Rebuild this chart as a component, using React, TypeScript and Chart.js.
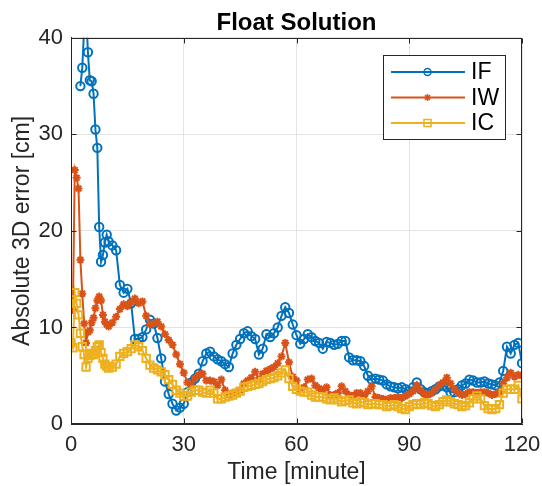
import React, { useEffect, useRef } from 'react';
import { Chart, registerables } from 'chart.js';

Chart.register(...registerables);

// Time axis (minutes)
const times: number[] = [
  0, 0.5, 1, 1.5, 2, 2.5, 3, 3.5, 4, 4.5, 5, 5.5, 6, 6.5, 7, 7.5, 8, 8.5, 9, 9.5, 10,
  11, 12, 13, 14, 15, 16, 17, 18, 19, 20,
  21, 22, 23, 24, 25, 26, 27, 28, 29, 30,
  31, 32, 33, 34, 35, 36, 37, 38, 39, 40,
  41, 42, 43, 44, 45, 46, 47, 48, 49, 50,
  51, 52, 53, 54, 55, 56, 57, 58, 59, 60,
  61, 62, 63, 64, 65, 66, 67, 68, 69, 70,
  71, 72, 73, 74, 75, 76, 77, 78, 79, 80,
  81, 82, 83, 84, 85, 86, 87, 88, 89, 90,
  91, 92, 93, 94, 95, 96, 97, 98, 99, 100,
  101, 102, 103, 104, 105, 106, 107, 108, 109, 110,
  111, 112, 113, 114, 115, 116, 117, 118, 119, 120,
];

const valuesIF: (number | null)[] = [
  null, null, null, null, null, 35.0, 36.9, 41, 43, 38.5, 35.6, 35.5, 34.2, 30.5, 28.6, 20.4, 16.8, 17.5, 18.8, 19.6, 18.9,
  18.5, 18.0, 14.4, 13.6, 14.0, 12.5, 8.8, 8.8, 9.0, 9.8,
  10.8, 10.4, 8.9, 6.8, 4.4, 3.1, 2.1, 1.4, 1.7, 2.1,
  3.3, 4.3, 4.7, 5.2, 6.5, 7.3, 7.5, 7.0, 6.7, 6.5,
  6.2, 5.9, 7.3, 8.2, 8.8, 9.4, 9.6, 9.1, 8.8, 7.2,
  7.8, 9.3, 9.0, 9.4, 10.0, 11.2, 12.1, 11.5, 10.3, 9.2,
  8.3, 8.8, 9.3, 9.0, 8.6, 8.4, 7.8, 8.5, 8.4, 8.2,
  8.3, 8.6, 8.6, 6.9, 6.6, 6.6, 6.5, 6.0, 5.0, 4.6,
  4.7, 4.6, 4.5, 4.1, 3.9, 3.8, 3.7, 3.8, 3.6, 3.4,
  3.8, 4.3, 3.6, 3.3, 3.2, 3.4, 3.6, 3.9, 4.0, 3.8,
  3.3, 3.3, 3.6, 4.0, 4.2, 4.6, 4.5, 4.3, 4.3, 4.4,
  4.2, 4.1, 4.0, 4.3, 5.5, 8.0, 7.3, 8.2, 8.4, 6.3,
];

const valuesIW: number[] = [
  12.0, 11.8, 26.3, 25.5, 24.4, 17.0, 13.5, 10.4, 8.4, 9.5, 9.7, 10.5, 11.0, 12.0, 12.8, 13.2, 12.8, 11.3, 10.6, 10.3, 10.1,
  10.5, 11.1, 11.9, 12.4, 12.2, 12.6, 13.0, 12.5, 12.7, 11.2,
  10.3, 10.4, 10.6, 10.1, 9.3, 8.7, 8.2, 7.2, 6.2, 5.3,
  4.3, 4.0, 4.7, 5.1, 5.2, 4.5, 4.5, 4.4, 4.0, 4.6,
  3.5, 3.0, 3.2, 3.3, 3.5, 4.2, 4.5, 4.8, 5.4, 4.6,
  5.2, 5.5, 5.7, 5.9, 6.3, 7.0, 8.4, 6.4, 4.9, 4.5,
  3.6, 3.8, 4.6, 4.7, 4.0, 3.7, 3.5, 3.8, 3.0, 3.0,
  3.2, 3.9, 3.4, 3.0, 2.9, 3.2, 3.2, 2.9, 3.4, 3.9,
  2.8, 2.7, 2.6, 2.5, 2.7, 2.7, 2.8, 2.7, 2.9, 3.1,
  3.4, 4.0, 3.5, 3.1, 3.0, 3.2, 3.6, 4.0, 4.3, 4.8,
  4.2, 3.6, 3.2, 3.0, 3.1, 3.3, 3.3, 3.2, 3.3, 3.3,
  3.2, 3.0, 3.1, 3.3, 4.2, 4.8, 5.3, 4.9, 5.1, 5.0,
];

const valuesIC: number[] = [
  8.4, 7.9, 13.6, 12.5, 11.3, 9.4, 8.0, 7.2, 5.9, 6.8, 7.1, 7.3, 7.2, 7.6, 8.0, 8.2, 7.4, 6.8, 6.2, 6.0, 5.8,
  5.9, 6.2, 7.0, 7.3, 7.5, 7.8, 8.2, 8.0, 7.6, 6.8,
  6.1, 5.8, 5.6, 5.4, 5.1, 4.6, 4.1, 3.5, 3.2, 2.9,
  2.9, 3.3, 3.5, 3.5, 3.3, 3.2, 3.5, 3.2, 2.6, 2.6,
  2.8, 2.9, 3.0, 3.2, 3.4, 3.8, 3.9, 4.0, 4.1, 4.2,
  4.4, 4.6, 4.7, 4.8, 5.0, 5.3, 5.6, 4.7, 3.9, 3.6,
  3.4, 3.3, 3.3, 3.0, 2.8, 2.8, 2.8, 2.6, 2.5, 2.7,
  2.5, 2.3, 2.4, 2.5, 2.2, 2.1, 2.3, 2.2, 2.0, 2.1,
  2.1, 2.0, 2.0, 1.8, 1.9, 2.0, 1.8, 1.6, 1.5, 1.8,
  2.0, 2.1, 2.0, 2.2, 2.1, 1.9, 1.8, 2.0, 2.3, 2.5,
  2.3, 2.1, 2.0, 1.8, 1.9, 2.2, 2.6, 2.9, 2.6, 1.9,
  1.6, 1.5, 1.6, 2.0, 3.2, 3.6, 3.6, 3.6, 4.0, 2.6,
];

const xTicks = [0, 30, 60, 90, 120];
const yTicks = [0, 10, 20, 30, 40];

const FONT = '"Liberation Sans", Arial, Helvetica, sans-serif';
const AXIS_COLOR = '#262626';

function toPoints(vals: (number | null)[]) {
  return times.map((t, i) => ({ x: t, y: vals[i] }));
}

function drawMarker(ctx: CanvasRenderingContext2D, style: string, x: number, y: number, r: number) {
  ctx.beginPath();
  if (style === 'circle') {
    ctx.arc(x, y, r, 0, Math.PI * 2);
  } else if (style === 'rect') {
    const s = r * Math.SQRT1_2;
    ctx.rect(x - s, y - s, 2 * s, 2 * s);
  } else if (style === 'star') {
    ctx.moveTo(x - r, y); ctx.lineTo(x + r, y);
    ctx.moveTo(x, y - r); ctx.lineTo(x, y + r);
    const d = r * Math.SQRT1_2;
    ctx.moveTo(x - d, y - d); ctx.lineTo(x + d, y + d);
    ctx.moveTo(x - d, y + d); ctx.lineTo(x + d, y - d);
  }
  ctx.stroke();
}

const framePlugin = {
  id: 'matlabFrame',
  afterDatasetsDraw(chart: any) {
    const { ctx, chartArea } = chart;
    const xs = chart.scales.x;
    const ys = chart.scales.y;
    const L = Math.round(chartArea.left) + 0.5;
    const R = Math.round(chartArea.right) - 0.5;
    const T = Math.round(chartArea.top) + 0.5;
    const B = Math.round(chartArea.bottom) - 0.5;
    ctx.save();
    ctx.strokeStyle = AXIS_COLOR;
    ctx.lineWidth = 1;
    ctx.strokeRect(L, T, R - L, B - T);
    const tl = 5;
    ctx.beginPath();
    xTicks.forEach((v) => {
      const px = Math.round(xs.getPixelForValue(v)) + 0.5;
      ctx.moveTo(px, B); ctx.lineTo(px, B - tl);
      ctx.moveTo(px, T); ctx.lineTo(px, T + tl);
    });
    yTicks.forEach((v) => {
      const py = Math.round(ys.getPixelForValue(v)) + 0.5;
      ctx.moveTo(L, py); ctx.lineTo(L + tl, py);
      ctx.moveTo(R, py); ctx.lineTo(R - tl, py);
    });
    ctx.stroke();
    ctx.restore();
  },
};

const legendPlugin = {
  id: 'matlabLegend',
  afterDraw(chart: any) {
    const { ctx, chartArea } = chart;
    const boxW = 122;
    const boxH = 84;
    const boxR = Math.round(chartArea.right) - 17;
    const boxL = boxR - boxW;
    const boxT = Math.round(chartArea.top) + 17;
    ctx.save();
    ctx.fillStyle = '#ffffff';
    ctx.fillRect(boxL, boxT, boxW, boxH);
    ctx.strokeStyle = AXIS_COLOR;
    ctx.lineWidth = 1;
    ctx.strokeRect(boxL + 0.5, boxT + 0.5, boxW, boxH);
    chart.data.datasets.forEach((ds: any, i: number) => {
      const y = boxT + 17 + i * 25.5;
      ctx.strokeStyle = ds.borderColor;
      ctx.lineWidth = 2;
      ctx.beginPath();
      ctx.moveTo(boxL + 8, y);
      ctx.lineTo(boxL + 82, y);
      ctx.stroke();
      ctx.lineWidth = 1.5;
      drawMarker(ctx, ds.pointStyle, boxL + 44.5, y, ds.pointStyle === 'rect' ? 5 : 3.5);
      ctx.fillStyle = '#000000';
      ctx.font = `23px ${FONT}`;
      ctx.textAlign = 'left';
      ctx.textBaseline = 'middle';
      ctx.fillText(ds.label, boxL + 88, y + 1);
    });
    ctx.restore();
  },
};

export default function App() {
  const canvasRef = useRef<HTMLCanvasElement | null>(null);

  useEffect(() => {
    if (!canvasRef.current) return;
    Chart.defaults.font.family = FONT;
    const chart = new Chart(canvasRef.current, {
      type: 'line',
      data: {
        datasets: [
          {
            label: 'IF',
            data: toPoints(valuesIF) as any,
            borderColor: '#0072BD',
            backgroundColor: 'rgba(0,0,0,0)',
            borderWidth: 2,
            pointStyle: 'circle',
            pointRadius: 4.2,
            pointBorderWidth: 2,
            pointBackgroundColor: 'rgba(0,0,0,0)',
            pointBorderColor: '#0072BD',
            order: 3,
            clip: 0,
          } as any,
          {
            label: 'IW',
            data: toPoints(valuesIW) as any,
            borderColor: '#D95319',
            backgroundColor: 'rgba(0,0,0,0)',
            borderWidth: 2,
            pointStyle: 'star',
            pointRadius: 4,
            pointBorderWidth: 2,
            pointBackgroundColor: 'rgba(0,0,0,0)',
            pointBorderColor: '#D95319',
            order: 2,
            clip: 0,
          } as any,
          {
            label: 'IC',
            data: toPoints(valuesIC) as any,
            borderColor: '#EDB120',
            backgroundColor: 'rgba(0,0,0,0)',
            borderWidth: 2,
            pointStyle: 'rect',
            pointRadius: 5.2,
            pointBorderWidth: 2,
            pointBackgroundColor: 'rgba(0,0,0,0)',
            pointBorderColor: '#EDB120',
            order: 1,
            clip: 0,
          } as any,
        ],
      },
      options: {
        responsive: false,
        animation: false,
        layout: { padding: { left: 0, right: 20, top: 0, bottom: 0 } },
        plugins: {
          legend: { display: false },
          tooltip: { enabled: false },
          title: {
            display: true,
            text: 'Float Solution',
            color: '#000000',
            font: { size: 24, weight: 'bold', family: FONT },
            padding: { top: 9, bottom: 0 },
            fullSize: false,
          } as any,
        },
        scales: {
          x: {
            type: 'linear',
            min: 0,
            max: 120,
            afterFit: (s: any) => { s.height = 62; s.paddingLeft = 0; s.paddingRight = 0; },
            afterBuildTicks: (s: any) => { s.ticks = xTicks.map((v) => ({ value: v })); },
            ticks: {
              color: AXIS_COLOR,
              font: { size: 22, family: FONT },
              padding: 8,
              maxRotation: 0,
              autoSkip: false,
            },
            grid: { color: '#e3e3e3', drawTicks: false, lineWidth: 1 },
            border: { display: true, color: AXIS_COLOR, width: 1 },
            title: {
              display: true,
              text: 'Time [minute]',
              color: AXIS_COLOR,
              font: { size: 23, family: FONT },
              padding: { top: 0, bottom: 0 },
            },
          },
          y: {
            type: 'linear',
            min: 0,
            max: 40,
            afterFit: (s: any) => { s.width = 71; s.paddingTop = 0; s.paddingBottom = 0; },
            afterBuildTicks: (s: any) => { s.ticks = yTicks.map((v) => ({ value: v })); },
            ticks: {
              color: AXIS_COLOR,
              font: { size: 22, family: FONT },
              padding: 8,
              autoSkip: false,
            },
            grid: { color: '#e3e3e3', drawTicks: false, lineWidth: 1 },
            border: { display: true, color: AXIS_COLOR, width: 1 },
            title: {
              display: true,
              text: 'Absolute 3D error [cm]',
              color: AXIS_COLOR,
              font: { size: 23, family: FONT },
              padding: { top: 9, bottom: 0 },
            },
          },
        },
      },
      plugins: [framePlugin, legendPlugin],
    });
    return () => chart.destroy();
  }, []);

  return (
    <div style={{ position: 'absolute', left: 0, top: 0, width: 542, height: 486, background: '#fff' }}>
      <canvas ref={canvasRef} width={542} height={486} style={{ display: 'block' }} />
    </div>
  );
}
